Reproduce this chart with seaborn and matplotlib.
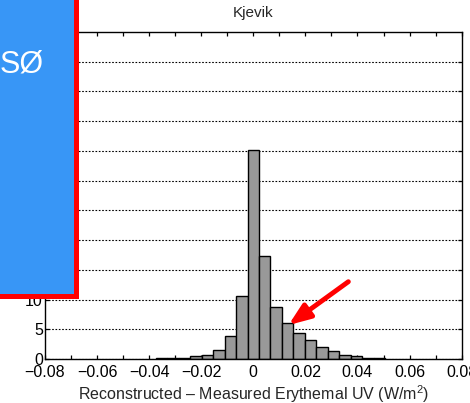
import matplotlib
matplotlib.use("Agg")
import matplotlib.pyplot as plt
import seaborn as sns
import numpy as np
from matplotlib.patches import Rectangle
from matplotlib.ticker import MultipleLocator

# ---- data ----
bin_centers = [-0.0352, -0.0308, -0.0264, -0.0220, -0.0176, -0.0132, -0.0088, -0.0044,
               0.0, 0.0044, 0.0088, 0.0132, 0.0176, 0.0220, 0.0264, 0.0308,
               0.0352, 0.0396, 0.0440, 0.0484]
counts = [0.15, 0.15, 0.2, 0.45, 0.73, 1.47, 3.95, 10.6,
          35.1, 17.3, 8.7, 6.0, 4.3, 3.2, 2.1, 1.3,
          0.75, 0.45, 0.2, 0.2]
bin_width = 0.0044
x_ticks = [-0.08, -0.06, -0.04, -0.02, 0.0, 0.02, 0.04, 0.06, 0.08]
x_tick_labels = ["\u22120.08", "\u22120.06", "\u22120.04", "\u22120.02", "0",
                 "0.02", "0.04", "0.06", "0.08"]
y_ticks = [0, 5, 10, 15, 20, 25, 30, 35, 40, 45, 50]
title = "Kjevik"
xlabel = "Reconstructed \u2013 Measured Erythemal UV (W/m$^2$)"
box_text = "S\u00d8"

sns.set_style("ticks")
plt.rcParams["font.family"] = ["Liberation Sans", "DejaVu Sans"]
plt.rcParams["mathtext.fontset"] = "custom"
plt.rcParams["mathtext.rm"] = "Liberation Sans"

fig = plt.figure(figsize=(4.7, 4.03), dpi=100)
ax = fig.add_axes([0.0957, 0.1092, 0.8865, 0.8114])

lo = bin_centers[0] - bin_width / 2
hi = bin_centers[-1] + bin_width / 2
sns.histplot(x=bin_centers, weights=counts, binwidth=bin_width, binrange=(lo, hi),
             color="#999999", edgecolor="black", linewidth=1.0, alpha=1.0, ax=ax)

ax.set_xlim(-0.08, 0.08)
ax.set_ylim(0, 55)
ax.set_xticks(x_ticks)
ax.set_xticklabels(x_tick_labels)
ax.xaxis.set_minor_locator(MultipleLocator(0.01))
ax.set_yticks(y_ticks)
ax.tick_params(axis="both", which="both", direction="in", top=True, right=True,
               length=3, width=0.9, colors="black", labelsize=11.5)
ax.tick_params(axis="x", which="major", pad=4)
ax.tick_params(axis="y", which="major", pad=1.5)

ax.set_axisbelow(True)
ax.yaxis.grid(True, linestyle=(0, (1.5, 1.5)), color="black", linewidth=0.8)
ax.xaxis.grid(False)
for s in ax.spines.values():
    s.set_linewidth(1.0)
    s.set_color("black")

ax.set_ylabel("")
ax.set_xlabel(xlabel, fontsize=11.5, labelpad=2.5)
ax.set_title(title, fontsize=11, pad=10.5)

ax.annotate("", xy=(0.0135, 5.7), xytext=(0.0365, 13.0),
            arrowprops=dict(arrowstyle="-|>,head_length=0.65,head_width=0.25",
                            mutation_scale=20, color="#ff0000", lw=3.5,
                            shrinkA=0, shrinkB=0))

rect = Rectangle((-0.05, 0.2667), 0.05 + 0.1613, 0.9, transform=fig.transFigure,
                 facecolor="#3896F6", edgecolor="#ff0000", linewidth=3.6,
                 zorder=5, clip_on=False)
fig.add_artist(rect)
fig.text(0.0, 0.8213, box_text, color="white", fontsize=22, ha="left",
         va="baseline", zorder=6)

fig.savefig("out.png", dpi=100)
